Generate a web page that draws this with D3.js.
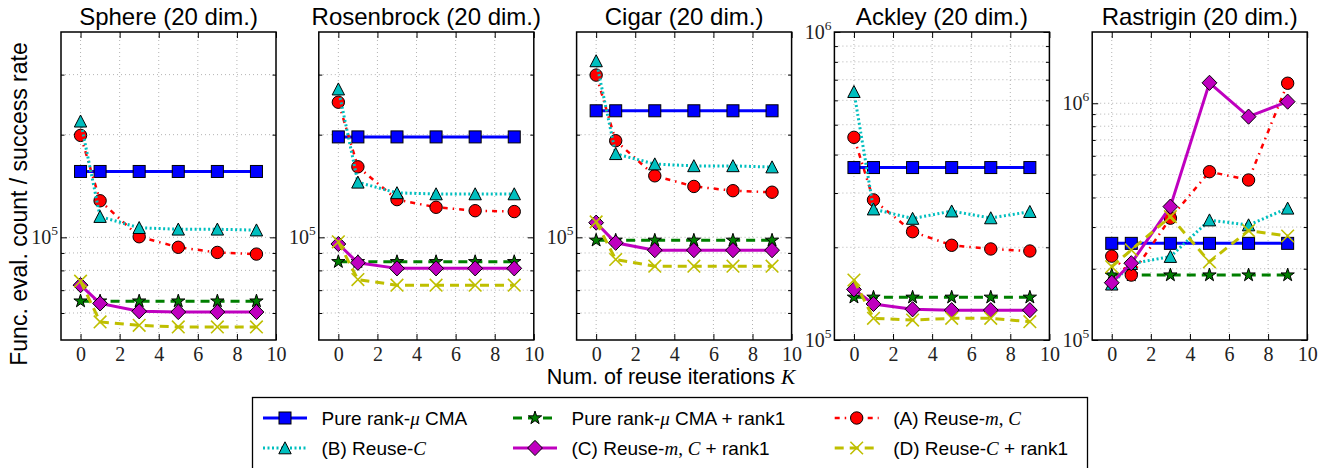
<!DOCTYPE html>
<html>
<head>
<meta charset="utf-8">
<script src="https://cdn.jsdelivr.net/npm/d3@7/dist/d3.min.js"></script>
<style>
  body { margin: 0; background: #fff; }
  svg { display: block; }
</style>
</head>
<body>
<svg id="chart" width="1330" height="468"></svg>
<script>
// x positions (num. of reuse iterations K)
const reuseK = [0, 1, 3, 5, 7, 9];

const panelTitles = ["Sphere (20 dim.)", "Rosenbrock (20 dim.)", "Cigar (20 dim.)", "Ackley (20 dim.)", "Rastrigin (20 dim.)"];
const yDomains = [[5e4, 4e5], [5e4, 4e5], [5e4, 4e5], [1e5, 1e6], [1e5, 2e6]];
const yMajorTicks = [[1e5], [1e5], [1e5], [1e5, 1e6], [1e5, 1e6]];
const xTickValues = [0, 2, 4, 6, 8, 10];

// one row per panel: Sphere, Rosenbrock, Cigar, Ackley, Rastrigin
const pureRankMu = [
  [1.56e5, 1.56e5, 1.56e5, 1.56e5, 1.56e5, 1.56e5],
  [1.97e5, 1.97e5, 1.97e5, 1.97e5, 1.97e5, 1.97e5],
  [2.35e5, 2.35e5, 2.35e5, 2.35e5, 2.35e5, 2.35e5],
  [3.63e5, 3.63e5, 3.63e5, 3.63e5, 3.63e5, 3.63e5],
  [2.56e5, 2.56e5, 2.56e5, 2.56e5, 2.56e5, 2.56e5]
];
const pureRankMuRank1 = [
  [6.5e4, 6.5e4, 6.5e4, 6.5e4, 6.5e4, 6.5e4],
  [8.48e4, 8.48e4, 8.48e4, 8.48e4, 8.48e4, 8.48e4],
  [9.8e4, 9.8e4, 9.8e4, 9.8e4, 9.8e4, 9.8e4],
  [1.376e5, 1.376e5, 1.376e5, 1.376e5, 1.376e5, 1.376e5],
  [1.88e5, 1.88e5, 1.88e5, 1.88e5, 1.88e5, 1.88e5]
];
const reuseMC = [
  [1.99e5, 1.28e5, 1.004e5, 9.35e4, 9.03e4, 8.93e4],
  [2.49e5, 1.61e5, 1.29e5, 1.225e5, 1.197e5, 1.19e5],
  [2.99e5, 1.92e5, 1.515e5, 1.41e5, 1.37e5, 1.356e5],
  [4.55e5, 2.85e5, 2.247e5, 2.03e5, 1.975e5, 1.945e5],
  [2.26e5, 1.88e5, 3.27e5, 5.14e5, 4.74e5, 1.215e6]
];
const reuseC = [
  [2.19e5, 1.15e5, 1.067e5, 1.056e5, 1.056e5, 1.05e5],
  [2.72e5, 1.45e5, 1.35e5, 1.34e5, 1.34e5, 1.34e5],
  [3.29e5, 1.758e5, 1.64e5, 1.62e5, 1.62e5, 1.607e5],
  [6.4e5, 2.66e5, 2.48e5, 2.62e5, 2.49e5, 2.61e5],
  [1.72e5, 2.1e5, 2.25e5, 3.21e5, 3.06e5, 3.6e5]
];
const reuseMCRank1 = [
  [7.24e4, 6.4e4, 6.07e4, 6.04e4, 6.04e4, 6.04e4],
  [9.56e4, 8.42e4, 8.11e4, 8.11e4, 8.11e4, 8.11e4],
  [1.104e5, 9.64e4, 9.17e4, 9.17e4, 9.17e4, 9.17e4],
  [1.46e5, 1.309e5, 1.258e5, 1.25e5, 1.25e5, 1.25e5],
  [1.746e5, 2.11e5, 3.66e5, 1.22e6, 8.78e5, 1.016e6]
];
const reuseCRank1 = [
  [7.44e4, 5.65e4, 5.52e4, 5.46e4, 5.46e4, 5.46e4],
  [9.7e4, 7.52e4, 7.24e4, 7.24e4, 7.24e4, 7.24e4],
  [1.11e5, 8.61e4, 8.23e4, 8.23e4, 8.23e4, 8.23e4],
  [1.566e5, 1.176e5, 1.161e5, 1.176e5, 1.176e5, 1.147e5],
  [2.04e5, 2.4e5, 3.32e5, 2.14e5, 2.9e5, 2.75e5]
];

// legend labels: [text, kind] kind 0 = plain, 1 = math italic, 2 = math upright
const legendLabels = [
  [["Pure rank-", 0], ["\u03bc", 1], [" CMA", 0]],
  [["Pure rank-", 0], ["\u03bc", 1], [" CMA + rank1", 0]],
  [["(A) Reuse-", 0], ["m", 1], [", ", 2], ["C", 1]],
  [["(B) Reuse-", 0], ["C", 1]],
  [["(C) Reuse-", 0], ["m", 1], [", ", 2], ["C", 1], [" + rank1", 0]],
  [["(D) Reuse-", 0], ["C", 1], [" + rank1", 0]]
];

const series = [
  { data: pureRankMu,      color: "#0000ff", dash: null,        width: 3,   marker: "square" },
  { data: pureRankMuRank1, color: "#007f00", dash: "9,6",       width: 3,   marker: "star" },
  { data: reuseMC,         color: "#ff0000", dash: "5,5,1.5,5", width: 2.5, marker: "circle" },
  { data: reuseC,          color: "#00bfbf", dash: "2,2.5",     width: 3,   marker: "triangle" },
  { data: reuseMCRank1,    color: "#bf00bf", dash: null,        width: 3,   marker: "diamond" },
  { data: reuseCRank1,     color: "#bfbf00", dash: "9,6",       width: 3,   marker: "x" }
];

const sans = "'Liberation Sans', Arial, Helvetica, sans-serif";
const serif = "'Liberation Serif', 'DejaVu Serif', serif";

const svg = d3.select("#chart");

// layout
const panelLeft = 61, panelStep = 257.8, panelW = 215;
const plotTop = 32, plotBottom = 340;

function starPath(R) {
  const r = R * 0.382;
  const pts = [];
  for (let i = 0; i < 10; i++) {
    const a = -Math.PI / 2 + i * Math.PI / 5;
    const rad = i % 2 === 0 ? R : r;
    pts.push([rad * Math.cos(a), rad * Math.sin(a)]);
  }
  return "M" + pts.map(p => p[0].toFixed(2) + "," + p[1].toFixed(2)).join("L") + "Z";
}

function drawMarker(g, type, x, y, color) {
  const m = g.append("g").attr("transform", `translate(${x},${y})`);
  if (type === "square") {
    m.append("rect").attr("x", -6).attr("y", -6).attr("width", 12).attr("height", 12)
      .attr("fill", color).attr("stroke", "#000").attr("stroke-width", 1);
  } else if (type === "circle") {
    m.append("circle").attr("r", 6.2).attr("fill", color).attr("stroke", "#000").attr("stroke-width", 1);
  } else if (type === "triangle") {
    m.append("path").attr("d", "M0,-6.2L6.2,5.8L-6.2,5.8Z")
      .attr("fill", color).attr("stroke", "#000").attr("stroke-width", 1);
  } else if (type === "diamond") {
    m.append("path").attr("d", "M0,-7.6L7.4,0L0,7.6L-7.4,0Z")
      .attr("fill", color).attr("stroke", "#000").attr("stroke-width", 1);
  } else if (type === "star") {
    m.append("path").attr("d", starPath(7))
      .attr("fill", color).attr("stroke", "#000").attr("stroke-width", 1);
  } else if (type === "x") {
    m.append("path").attr("d", "M-6.3,-6.3L6.3,6.3M-6.3,6.3L6.3,-6.3")
      .attr("fill", "none").attr("stroke", color).attr("stroke-width", 1.6);
  }
}

panelTitles.forEach((title, p) => {
  const left = panelLeft + p * panelStep;
  const g = svg.append("g").attr("transform", `translate(${left},0)`);

  const x = d3.scaleLinear().domain([-1, 10]).range([0, panelW]);
  const y = d3.scaleLog().domain(yDomains[p]).range([plotBottom, plotTop]);

  // minor ticks: 2..9 x 10^k inside domain
  const [lo, hi] = yDomains[p];
  const minorTicks = [];
  for (let e = Math.floor(Math.log10(lo)); e <= Math.ceil(Math.log10(hi)); e++) {
    for (let k = 2; k <= 9; k++) {
      const v = k * Math.pow(10, e);
      if (v > lo * 1.0001 && v < hi * 0.9999) minorTicks.push(v);
    }
  }
  const majors = yMajorTicks[p];
  const gridY = minorTicks.concat(majors.filter(v => v > lo * 1.0001 && v < hi * 0.9999));

  // grid
  const grid = g.append("g").attr("stroke", "#a0a0a0").attr("stroke-width", 0.8)
    .attr("stroke-dasharray", "1,3");
  grid.selectAll(".gx").data(xTickValues.filter(v => v < 10)).enter().append("line")
    .attr("x1", d => x(d)).attr("x2", d => x(d)).attr("y1", plotTop).attr("y2", plotBottom);
  grid.selectAll(".gy").data(gridY).enter().append("line")
    .attr("x1", 0).attr("x2", panelW).attr("y1", d => y(d)).attr("y2", d => y(d));

  // x axes (ticks pointing inward)
  const xb = g.append("g").attr("transform", `translate(0,${plotBottom})`)
    .attr("font-family", serif).attr("font-size", 20)
    .call(d3.axisBottom(x).tickValues(xTickValues).tickSize(-6).tickPadding(0).tickFormat(d3.format("d")));
  xb.attr("font-family", serif).attr("font-size", 20);
  xb.select(".domain").remove();
  xb.selectAll("text").style("font-family", serif).style("font-size", "20px")
    .attr("fill", "#222").attr("y", 21).attr("dy", 0);
  xb.selectAll("line").attr("stroke", "#000");
  const xt = g.append("g").attr("transform", `translate(0,${plotTop})`)
    .call(d3.axisTop(x).tickValues(xTickValues).tickSize(-6).tickFormat(""));
  xt.select(".domain").remove();

  // y ticks left and right (major and minor)
  [[d3.axisLeft, 0], [d3.axisRight, panelW]].forEach(([axisFn, ax]) => {
    const minor = g.append("g").attr("transform", `translate(${ax},0)`)
      .call(axisFn(y).tickValues(minorTicks).tickSize(-3.5).tickFormat(""));
    minor.select(".domain").remove();
    const major = g.append("g").attr("transform", `translate(${ax},0)`)
      .call(axisFn(y).tickValues(majors).tickSize(-6).tickFormat(""));
    major.select(".domain").remove();
  });

  // y tick labels 10^n
  majors.forEach(v => {
    const t = g.append("text").attr("x", -3).attr("y", y(v) + 7)
      .attr("text-anchor", "end").style("font-family", serif).attr("fill", "#222");
    t.append("tspan").style("font-size", "20px").text("10");
    t.append("tspan").style("font-size", "13.5px").attr("dy", -9).text(String(Math.round(Math.log10(v))));
  });

  // series
  series.forEach(s => {
    const vals = s.data[p];
    const pts = reuseK.map((k, i) => [k, vals[i]]);
    g.append("path").datum(pts)
      .attr("d", d3.line().x(d => x(d[0])).y(d => y(d[1])))
      .attr("fill", "none").attr("stroke", s.color).attr("stroke-width", s.width)
      .attr("stroke-dasharray", s.dash);
    pts.forEach(d => drawMarker(g, s.marker, x(d[0]), y(d[1]), s.color));
  });

  // frame
  g.append("rect").attr("x", 0).attr("y", plotTop).attr("width", panelW).attr("height", plotBottom - plotTop)
    .attr("fill", "none").attr("stroke", "#000").attr("stroke-width", 1.5);

  // title
  g.append("text").attr("x", panelW / 2).attr("y", 25).attr("text-anchor", "middle")
    .attr("font-family", sans).attr("font-size", 24).attr("fill", "#000").text(title);
});

// axis labels
svg.append("text").attr("transform", "translate(27,204) rotate(-90)")
  .attr("text-anchor", "middle").attr("font-family", sans).attr("font-size", 23)
  .text("Func. eval. count / success rate");

const xl = svg.append("text").attr("x", 671).attr("y", 384).attr("text-anchor", "middle")
  .attr("font-family", sans).attr("font-size", 21.5);
xl.append("tspan").text("Num. of reuse iterations ");
xl.append("tspan").style("font-family", serif).attr("font-style", "italic").text("K");

// legend
const legend = svg.append("g");
legend.append("rect").attr("x", 252.5).attr("y", 397.5).attr("width", 835).attr("height", 90)
  .attr("fill", "#fff").attr("stroke", "#000").attr("stroke-width", 1.3);
const colX = [285, 535, 856.7];
const rowY = [418, 448];
series.forEach((s, i) => {
  const cx = colX[i % 3], cy = rowY[Math.floor(i / 3)];
  legend.append("line").attr("x1", cx - 22).attr("x2", cx + 22).attr("y1", cy).attr("y2", cy)
    .attr("stroke", s.color).attr("stroke-width", s.width).attr("stroke-dasharray", s.dash);
  drawMarker(legend, s.marker, cx, cy, s.color);
  const t = legend.append("text").attr("x", cx + 36.5).attr("y", cy + 6.8)
    .attr("font-family", sans).attr("font-size", 19);
  legendLabels[i].forEach(([txt, kind]) => {
    const ts = t.append("tspan").text(txt);
    if (kind === 1) ts.style("font-family", serif).attr("font-style", "italic");
    if (kind === 2) ts.style("font-family", serif);
  });
});
</script>
</body>
</html>
